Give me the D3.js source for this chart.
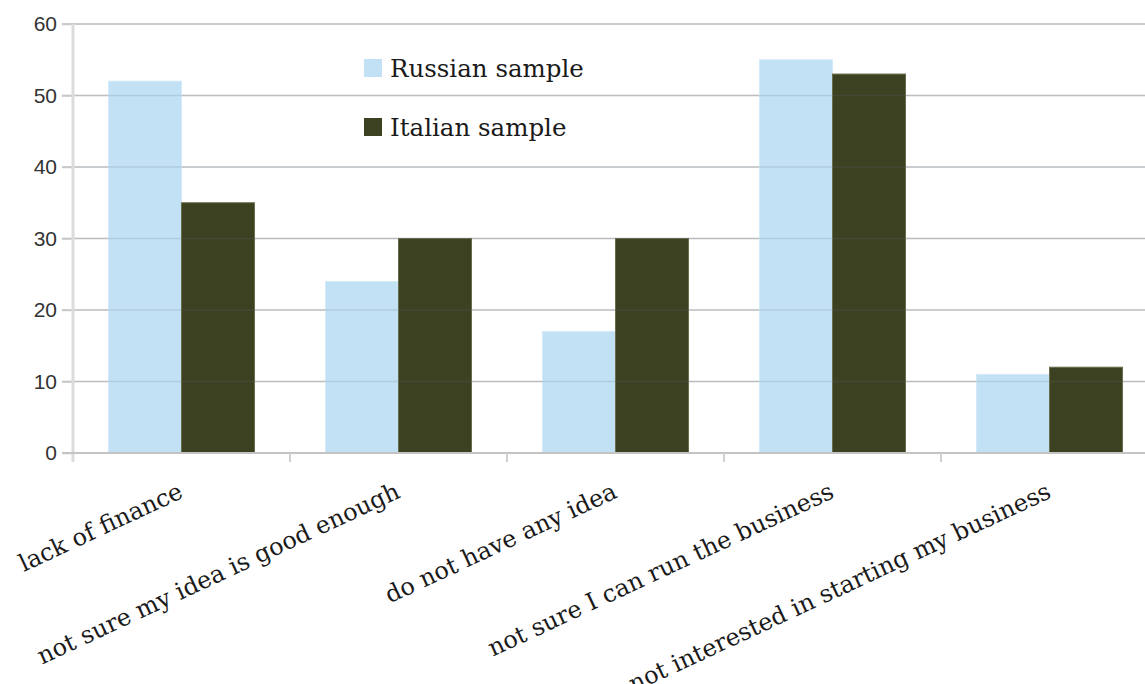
<!DOCTYPE html>
<html><head><meta charset="utf-8">
<script src="https://cdn.jsdelivr.net/npm/d3@7"></script>
<style>body{margin:0;background:#fff;overflow:hidden}svg{display:block}</style>
</head><body><svg id="c" width="1145" height="684"></svg>
<script>
const categories = ["lack of finance","not sure my idea is good enough","do not have any idea","not sure I can run the business","not interested in starting my business"];
const seriesNames = ["Russian sample","Italian sample"];
const russian = [52,24,17,55,11];
const italian = [35,30,30,53,12];
const yTicks = [0,10,20,30,40,50,60];
const colors = ["#c2e1f4","#3c4122"];
const strokes = ["#d4eaf8","#6a6d4c"];

const svg = d3.select("#c");
const x0 = d3.scaleBand().domain(categories).range([73,1158]).padding(0);
const x1 = d3.scaleBand().domain(seriesNames).range([0,x0.bandwidth()]).paddingInner(0).paddingOuter(0.486);
const y = d3.scaleLinear().domain([0,60]).range([453,24]);

svg.append("g").selectAll("line").data(yTicks.slice(1)).join("line")
  .attr("x1",62).attr("x2",1145).attr("y1",d=>y(d)).attr("y2",d=>y(d))
  .attr("stroke","#d0d0d0").attr("stroke-width",1.5);

const data = categories.map((c,i)=>({c, vals:[russian[i],italian[i]]}));
const g = svg.append("g");
data.forEach(d=>{
  d.vals.forEach((v,j)=>{
    g.append("rect")
      .attr("x",x0(d.c)+x1(seriesNames[j]))
      .attr("y",y(v))
      .attr("width",x1.bandwidth())
      .attr("height",y(0)-y(v))
      .attr("fill",colors[j])
      .attr("stroke",strokes[j]).attr("stroke-width",1);
  });
});

svg.append("g").selectAll("line").data(yTicks.slice(1)).join("line")
  .attr("x1",62).attr("x2",1145).attr("y1",d=>y(d)).attr("y2",d=>y(d))
  .attr("stroke","rgba(90,110,130,0.18)").attr("stroke-width",1.5);

const yAxis = d3.axisLeft(y).tickValues(yTicks).tickSize(11).tickPadding(5);
const ya = svg.append("g").attr("transform","translate(73,0)").call(yAxis);
ya.select(".domain").remove();
ya.selectAll(".tick line").attr("stroke","#c8c8c8").attr("stroke-width",1.5);
ya.selectAll("text").attr("font-family","Liberation Sans, Arial, sans-serif").attr("font-size",21).attr("fill","#333");
svg.append("line").attr("x1",73).attr("x2",73).attr("y1",y(60)).attr("y2",462).attr("stroke","#dcdcdc").attr("stroke-width",3);

const xAxis = d3.axisBottom(x0).tickSize(0).tickFormat("");
const xa = svg.append("g").attr("transform",`translate(0,${y(0)})`).call(xAxis);
xa.select(".domain").remove();
svg.append("line").attr("x1",62).attr("x2",1145).attr("y1",y(0)).attr("y2",y(0)).attr("stroke","#c4c4c4").attr("stroke-width",2);
svg.append("g").selectAll("line").data(categories.slice(1)).join("line")
  .attr("x1",d=>x0(d)).attr("x2",d=>x0(d)).attr("y1",y(0)).attr("y2",y(0)+9)
  .attr("stroke","#d0d0d0").attr("stroke-width",2);

svg.append("g").selectAll("text").data(categories).join("text")
  .attr("transform",d=>`translate(${x0(d)+x0.bandwidth()/2+3},497) rotate(-25)`)
  .attr("text-anchor","end")
  .attr("font-family","DejaVu Serif, serif").attr("font-size",24).attr("fill","#1a1a1a")
  .text(d=>d);

const leg = svg.append("g");
seriesNames.forEach((s,i)=>{
  const yy = 58 + i*59;
  leg.append("rect").attr("x",364).attr("y",yy+1).attr("width",18).attr("height",18).attr("fill",colors[i]);
  leg.append("text").attr("x",390).attr("y",yy+19).attr("font-family","DejaVu Serif, serif").attr("font-size",24.5).attr("fill","#1a1a1a").text(s);
});
</script></body></html>
